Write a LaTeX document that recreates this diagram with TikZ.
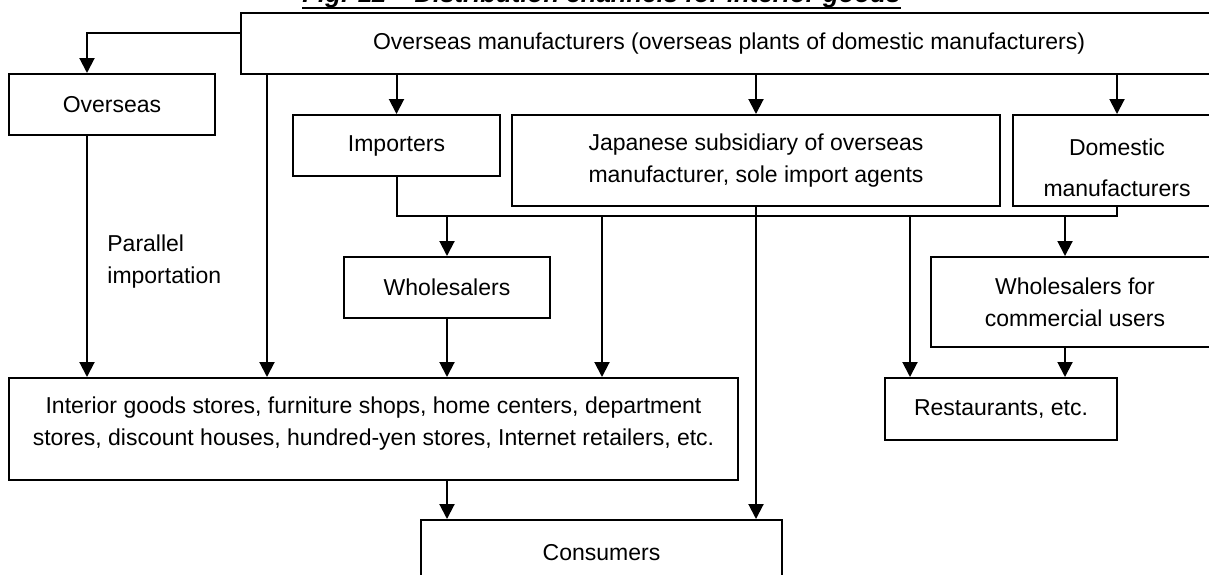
\documentclass[tikz,border=0pt]{standalone}
\usepackage{fontspec}
\setmainfont{Liberation Sans}
\usepackage{tikz}
\usetikzlibrary{arrows.meta}

\begin{document}
\begin{tikzpicture}[x=0.5pt,y=-0.5pt,
  font=\fontsize{11.5}{16}\selectfont,
  box/.style={draw=black,fill=white,line width=1pt,align=center,inner sep=0pt},
  arr/.style={black,line width=1pt,-{Triangle[length=7.5pt,width=7.5pt]}},
  link/.style={black,line width=1pt}]

\path[use as bounding box] (0,0) rectangle (1209,574);

\node[font=\fontsize{12.9}{16}\selectfont\bfseries\itshape,anchor=base west,inner sep=0pt] (title) at (302,2.5) {Fig. 12\hspace{14pt}Distribution channels for interior goods};
\draw[link] ([yshift=-2.5pt]title.base west) -- ([yshift=-2.5pt]title.base east);

\node[box,minimum width=488pt,minimum height=30.5pt] (maker) at (729,43.5) {Overseas manufacturers (overseas plants of domestic manufacturers)};
\node[box,minimum width=103pt,minimum height=30.5pt] (overseas) at (112,104.5) {Overseas};
\node[box,minimum width=103.5pt,minimum height=30.5pt] (importers) at (396.5,145.5) {Importers};
\node[box,minimum width=244pt,minimum height=45.5pt] (japan) at (756,160.5) {Japanese subsidiary of overseas\\manufacturer, sole import agents};
\node[box,minimum width=104pt,minimum height=45.5pt,font=\fontsize{11.5}{20.5}\selectfont] (domestic) at (1117,160.5) {\rule{0pt}{15.5pt}Domestic\\manufacturers};
\node[box,minimum width=103pt,minimum height=30.5pt] (wholesale) at (447,287.5) {Wholesalers};
\node[box,minimum width=144pt,minimum height=45pt] (commercial) at (1075,302) {Wholesalers for\\commercial users};
\node[box,minimum width=364.5pt,minimum height=51pt] (retail) at (373.5,429) {Interior goods stores, furniture shops, home centers, department\\stores, discount houses, hundred-yen stores, Internet retailers, etc.\rule[-7.5pt]{0pt}{0pt}};
\node[box,minimum width=116pt,minimum height=31pt] (restaurants) at (1001,409) {Restaurants, etc.};
\node[box,minimum width=180.5pt,minimum height=33pt] (consumers) at (601.5,553) {Consumers};
\node[anchor=west,align=left,inner sep=0pt] (parallel) at (107,261.5) {Parallel\\importation};

\coordinate (overCol) at (87,0);
\coordinate (directCol) at (267,0);
\coordinate (agentCol) at (602,0);
\coordinate (restCol) at (910,0);
\coordinate (commCol) at (1065,0);
\coordinate (bus) at (700,216);

\draw[arr] ([yshift=5.25pt]maker.west) -| (overCol |- overseas.north);
\draw[arr] (overCol |- overseas.south) -- (overCol |- retail.north);
\draw[arr] (directCol |- maker.south) -- (directCol |- retail.north);
\draw[arr] (importers |- maker.south) -- (importers);
\draw[arr] (japan |- maker.south) -- (japan);
\draw[arr] (domestic |- maker.south) -- (domestic);

\draw[link] (importers.south) |- (bus) -| (domestic.south);
\draw[arr] (wholesale |- bus) -- (wholesale);
\draw[arr] (agentCol |- bus) -- (agentCol |- retail.north);
\draw[arr] (restCol |- bus) -- (restCol |- restaurants.north);
\draw[arr] (commCol |- bus) -- (commCol |- commercial.north);
\draw[arr] (commCol |- commercial.south) -- (commCol |- restaurants.north);
\draw[arr] (wholesale.south) -- (wholesale |- retail.north);
\draw[arr] (japan.south) -- (japan.south |- consumers.north);
\draw[arr] (wholesale |- retail.south) -- (wholesale |- consumers.north);

\end{tikzpicture}
\end{document}
